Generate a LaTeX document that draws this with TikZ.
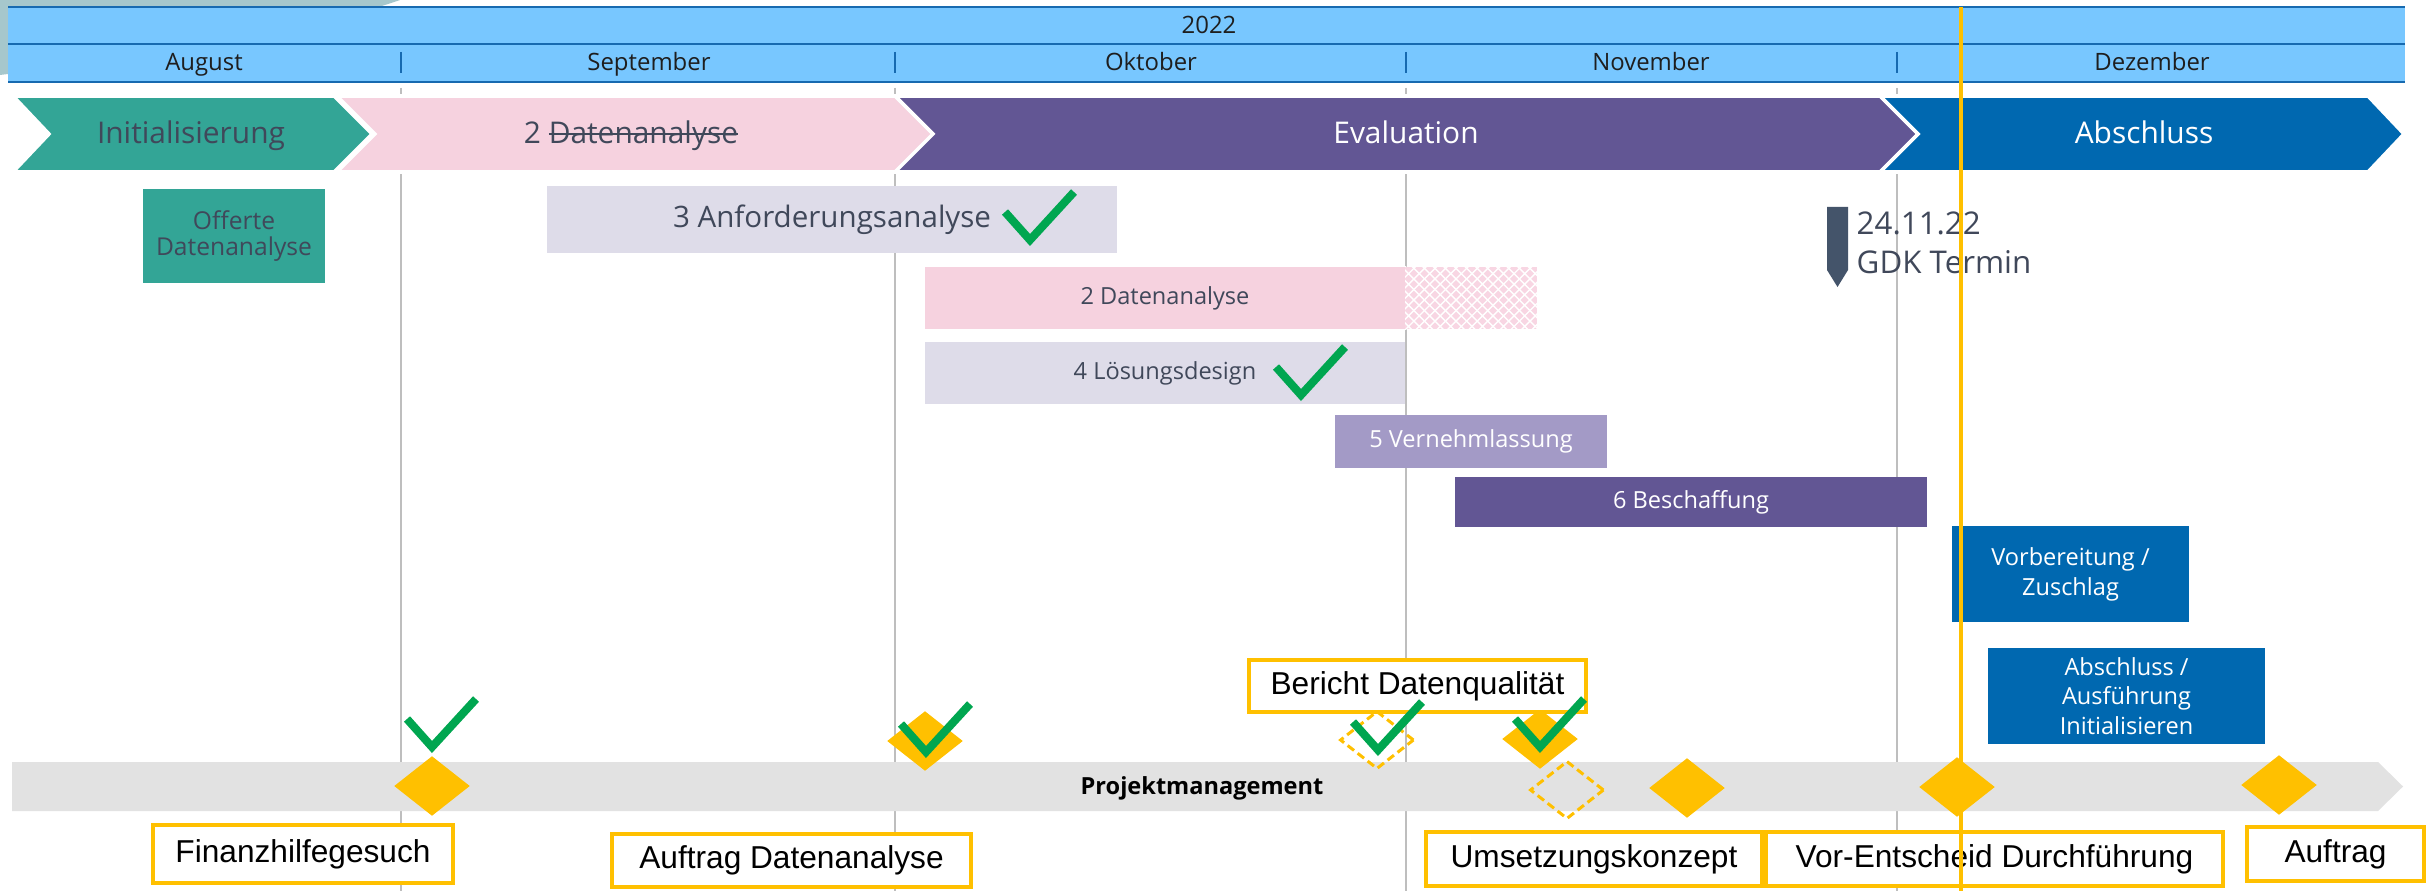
\documentclass[tikz,border=0pt]{standalone}
\usepackage{fontspec}
\setmainfont{Open Sans}
\newfontfamily\arialf{Liberation Sans}
\usetikzlibrary{shapes.geometric,patterns}
\newcommand{\mystrike}[1]{\setbox0\hbox{#1}\rlap{\rule[0.3em]{\wd0}{0.55pt}}\box0}
\definecolor{hdrfill}{RGB}{120,199,255}
\definecolor{hdrline}{RGB}{23,106,176}
\definecolor{tealph}{RGB}{51,165,150}
\definecolor{pinkph}{RGB}{246,210,223}
\definecolor{pinkhatch}{RGB}{248,214,227}
\definecolor{purpleph}{RGB}{98,86,148}
\definecolor{blueph}{RGB}{0,104,176}
\definecolor{lavender}{RGB}{222,220,233}
\definecolor{lightpurple}{RGB}{163,154,198}
\definecolor{slate}{RGB}{68,84,106}
\definecolor{textdark}{RGB}{64,72,90}
\definecolor{gold}{RGB}{255,192,0}
\definecolor{tickgreen}{RGB}{0,166,80}
\definecolor{bandgray}{RGB}{226,226,226}
\definecolor{gridgray}{RGB}{190,190,190}
\definecolor{decor}{RGB}{166,199,204}
\definecolor{hdrtext}{RGB}{30,30,30}
\tikzset{
  hdrtxt/.style={anchor=base, inner sep=0pt, text=hdrtext, font=\fontsize{6.8}{8}\selectfont},
  phasetxt/.style={anchor=base, inner sep=0pt, font=\fontsize{8.5}{10}\selectfont},
  taskbox/.style={rectangle, inner sep=0pt, align=center, font=\fontsize{6.7}{8.5}\selectfont},
  goldlabel/.style={rectangle, draw=gold, line width=1.1pt, fill=white, inner sep=0pt,
    text=black, font=\arialf\fontsize{9}{11}\selectfont},
  msfill/.style={diamond, fill=gold, inner sep=0pt, minimum width=0.76cm, minimum height=0.6cm},
  msdash/.style={diamond, draw=gold, line width=0.85pt, dash pattern=on 2.3pt off 1.3pt,
    inner sep=0pt, minimum width=0.74cm, minimum height=0.58cm},
  gridline/.style={draw=gridgray, line width=0.6pt},
  okmark/.pic={\draw[draw=tickgreen, line width=2.3pt, line join=miter] (-25,-28) -- (0,0) -- (44,-48);}
}
\begin{document}
\begin{tikzpicture}[x=0.01cm,y=-0.01cm]
\useasboundingbox (0,0) rectangle (2436,891);
\fill[white] (0,0) rectangle (2436,891);
% decoration top-left
\fill[decor] (0,0) -- (400,0) .. controls (300,35) and (120,60) .. (0,75) -- cycle;
% grid lines
\foreach \gx in {401,895,1406,1897} {\draw[gridline] (\gx,88) -- (\gx,891);}
% header
\fill[hdrfill] (8,7) rectangle (2405,82);
\foreach \hy in {7,44,82} {\draw[hdrline, line width=0.6pt] (8,\hy) -- (2405,\hy);}
\foreach \gx in {401,895,1406,1897} {\draw[hdrline, line width=0.7pt] (\gx,52) -- (\gx,73);}
\node[hdrtxt] (year) at (1209,34) {2022};
\node[hdrtxt] (aug) at (204,71) {August};
\node[hdrtxt] (sep) at (649,71) {September};
\node[hdrtxt] (okt) at (1151,71) {Oktober};
\node[hdrtxt] (nov) at (1651,71) {November};
\node[hdrtxt] (dez) at (2152,71) {Dezember};
% phase chevrons
\filldraw[fill=tealph, draw=white, line width=1pt] (13,96) -- (334,96) -- (372,134) -- (334,172) -- (13,172) -- (49,134) -- cycle;
\filldraw[fill=pinkph, draw=white, line width=1pt] (337,96) -- (895,96) -- (933,134) -- (895,172) -- (337,172) -- (375,134) -- cycle;
\filldraw[fill=purpleph, draw=white, line width=1pt] (895,96) -- (1880,96) -- (1918,134) -- (1880,172) -- (895,172) -- (933,134) -- cycle;
\filldraw[fill=blueph, draw=white, line width=1pt] (1880,96) -- (2368,96) -- (2404,134) -- (2368,172) -- (1880,172) -- (1918,134) -- cycle;
\node[phasetxt, text=textdark] (ph1) at (191,144) {Initialisierung};
\node[phasetxt, text=textdark] (ph2) at (631,144) {2 \mystrike{Datenanalyse}};
\node[phasetxt, text=white] (ph3) at (1406,144) {Evaluation};
\node[phasetxt, text=white] (ph4) at (2144,144) {Abschluss};
% task boxes
\node[taskbox, fill=tealph, text=textdark, minimum width=1.82cm, minimum height=0.94cm,
  font=\fontsize{7}{7.6}\selectfont] (offerte) at (234,236) {Offerte\\Datenanalyse};
\node[taskbox, fill=lavender, text=textdark, minimum width=5.70cm, minimum height=0.67cm,
  font=\fontsize{8.4}{10}\selectfont] (anf) at (832,219.5) {3 Anforderungsanalyse};
\fill[pinkhatch] (1405,267) rectangle (1537,329);
\fill[pattern=crosshatch, pattern color=white] (1405,267) rectangle (1537,329);
\node[taskbox, fill=pinkph, text=textdark, minimum width=4.80cm, minimum height=0.62cm] (da2) at (1165,298) {2 Datenanalyse};
\node[taskbox, fill=lavender, text=textdark, minimum width=4.80cm, minimum height=0.62cm] (loes) at (1165,373) {4 Lösungsdesign};
\node[taskbox, fill=lightpurple, text=white, minimum width=2.72cm, minimum height=0.53cm] (vern) at (1471,441.5) {5 Vernehmlassung};
\node[taskbox, fill=purpleph, text=white, minimum width=4.72cm, minimum height=0.50cm] (besch) at (1691,502) {6 Beschaffung};
\node[taskbox, fill=blueph, text=white, minimum width=2.37cm, minimum height=0.96cm,
  font=\fontsize{6.7}{8.6}\selectfont] (vorb) at (2070.5,574) {Vorbereitung /\\Zuschlag};
\node[taskbox, fill=blueph, text=white, minimum width=2.77cm, minimum height=0.96cm,
  font=\fontsize{6.7}{8.4}\selectfont] (absbox) at (2126.5,696) {Abschluss /\\Ausführung\\Initialisieren};
% GDK marker
\fill[slate] (1827,207) -- (1848,207) -- (1848,270) -- (1837.5,287) -- (1827,270) -- cycle;
\node[anchor=west, inner sep=0pt, align=left, text=textdark, font=\fontsize{8.9}{11.1}\selectfont] (gdk) at (1856,243) {24.11.22\\GDK Termin};
% Projektmanagement band
\fill[bandgray] (12,762) -- (2378,762) -- (2403,786.5) -- (2378,811) -- (12,811) -- cycle;
\node[inner sep=0pt, text=black, font=\bfseries\fontsize{6.7}{8}\selectfont] (pm) at (1202,788) {Projektmanagement};
% milestones
\node[msfill] (m1) at (432,786) {};
\node[msfill] (m2) at (925,741) {};
\node[msdash] (m3) at (1377,740) {};
\node[msfill] (m4) at (1540,739) {};
\node[msdash] (m5) at (1567,790) {};
\node[msfill] (m6) at (1687,788) {};
\node[msfill] (m7) at (1957,787) {};
\node[msfill] (m8) at (2279,785) {};
% milestone labels
\node[goldlabel, minimum width=3.00cm, minimum height=0.58cm] (l1) at (303,854) {Finanzhilfegesuch};
\node[goldlabel, minimum width=3.59cm, minimum height=0.53cm] (l2) at (791.5,860.5) {Auftrag Datenanalyse};
\node[goldlabel, minimum width=3.37cm, minimum height=0.52cm] (l3) at (1417.5,686) {Bericht Datenqualität};
\node[goldlabel, minimum width=3.36cm, minimum height=0.54cm] (l4) at (1594,859) {Umsetzungskonzept};
\node[goldlabel, minimum width=4.57cm, minimum height=0.54cm] (l5) at (1994.5,859) {Vor-Entscheid Durchführung};
\node[goldlabel, minimum width=1.77cm, minimum height=0.54cm] (l6) at (2335.5,854) {Auftrag};
% check marks
\pic at (1030,240) {okmark};
\pic at (1301,395) {okmark};
\pic at (432,747) {okmark};
\pic at (926,752) {okmark};
\pic at (1378,750) {okmark};
\pic at (1540,747) {okmark};
% today line
\draw[gold, line width=0.9pt] (1961,7) -- (1961,891);
\end{tikzpicture}
\end{document}
